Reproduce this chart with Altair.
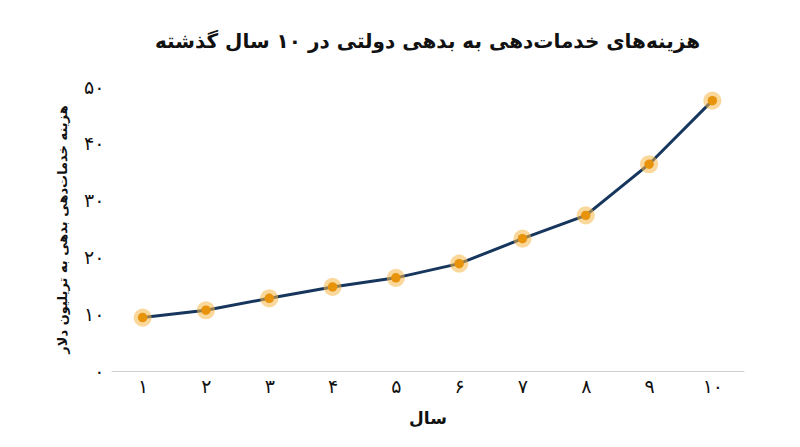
import altair as alt
import pandas as pd

years = ['۱', '۲', '۳', '۴', '۵', '۶', '۷', '۸', '۹', '۱۰']
costs = [9.4, 10.7, 12.8, 14.8, 16.4, 18.9, 23.3, 27.4, 36.4, 47.6]
y_ticks = [0, 10, 20, 30, 40, 50]
y_tick_labels = ['۰', '۱۰', '۲۰', '۳۰', '۴۰', '۵۰']

title = 'هزینه‌های خدمات‌دهی به بدهی دولتی در ۱۰ سال گذشته'
x_title = 'سال'
y_title = 'هزینه خدمات‌دهی بدهی به تریلیون دلار'

df = pd.DataFrame({'year': years, 'cost': costs})

label_expr = ' : '.join(
    f"datum.value == {v} ? '{l}'" for v, l in zip(y_ticks, y_tick_labels)
) + " : ''"

FONT = 'DejaVu Sans'

x_enc = alt.X('year:N', sort=None, title=x_title,
              axis=alt.Axis(labelAngle=0, ticks=False, domainColor='#d0d0d0',
                            labelFontSize=19, labelColor='#111', labelPadding=6,
                            titleFontSize=17, titleFontWeight='bold', titleColor='#111',
                            titlePadding=14, labelFont=FONT, titleFont=FONT))
y_enc = alt.Y('cost:Q', title=y_title,
              scale=alt.Scale(domain=[0, 50]),
              axis=alt.Axis(values=y_ticks, labelExpr=label_expr, grid=False,
                            domain=False, ticks=False, labelFontSize=19,
                            labelColor='#111', labelPadding=7,
                            titleFontSize=13, titleFontWeight='bold', titleColor='#111',
                            titlePadding=14, labelFont=FONT, titleFont=FONT))

base = alt.Chart(df).encode(x=x_enc, y=y_enc)

line = base.mark_line(color='#17365d', strokeWidth=3)
halo = base.mark_circle(size=330, color='#f5b84a', opacity=0.55)
dot = base.mark_circle(size=90, color='#e8930c', opacity=1)

chart = (line + halo + dot).properties(
    width=633, height=284,
    title=alt.TitleParams(title, fontSize=20, fontWeight='bold', font=FONT,
                          color='#111', offset=26, anchor='middle'),
    padding={'left': 48, 'top': 24, 'right': 5, 'bottom': 5},
).configure_view(stroke=None)

chart.save("out.html", embed_options={"renderer": "svg", "actions": False})
